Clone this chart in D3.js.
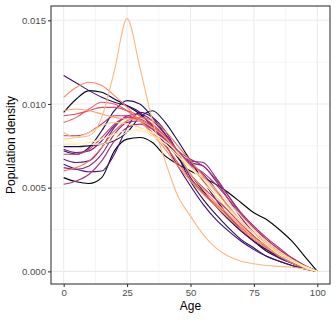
<!DOCTYPE html>
<html>
<head>
<meta charset="utf-8">
<script src="https://cdn.jsdelivr.net/npm/d3@7"></script>
<style>
body { margin: 0; background: #fff; }
text { font-family: "Liberation Sans", Arial, sans-serif; }
</style>
</head>
<body>
<script>
var ages = [0, 5, 10, 15, 20, 25, 30, 35, 40, 45, 50, 55, 60, 65, 70, 75, 80, 85, 90, 95, 100]

// densities, in thousandths, one array per population (dark -> light)
var pop00 = [5.6, 5.35, 5.25, 5.6, 7.2, 7.9, 8.0, 7.7, 6.9, 6.4, 6.0, 5.6, 5.2, 4.7, 4.1, 3.5, 3.1, 2.5, 1.8, 0.9, 0]
var pop01 = [9.5, 10.3, 10.8, 10.7, 10.3, 9.9, 9.4, 8.7, 7.8, 6.8, 5.8, 4.8, 3.9, 3.1, 2.4, 1.8, 1.3, 0.9, 0.5, 0.2, 0]
var pop02 = [7.45, 7.45, 7.5, 7.6, 7.8, 8.3, 9.2, 9.6, 8.9, 7.8, 6.6, 5.4, 4.3, 3.3, 2.5, 1.8, 1.2, 0.8, 0.5, 0.2, 0]
var pop03 = [7.2, 7.0, 7.4, 8.4, 9.6, 10.2, 10.0, 9.2, 8.2, 6.9, 5.4, 4.3, 3.4, 2.6, 1.9, 1.4, 0.9, 0.6, 0.35, 0.15, 0]
var pop04 = [11.7, 11.25, 10.8, 10.4, 10.1, 9.9, 9.5, 8.6, 7.6, 6.3, 5.1, 4.0, 3.1, 2.4, 1.8, 1.3, 0.9, 0.6, 0.35, 0.15, 0]
var pop05 = [6.4, 6.1, 5.95, 6.0, 7.0, 8.6, 9.5, 9.2, 8.4, 7.1, 5.6, 4.7, 3.9, 3.1, 2.4, 1.8, 1.3, 0.8, 0.5, 0.2, 0]
var pop06 = [6.7, 6.5, 6.6, 7.4, 8.6, 9.3, 9.4, 9.0, 8.2, 7.2, 6.4, 5.8, 4.9, 3.8, 2.9, 2.1, 1.4, 0.9, 0.5, 0.2, 0]
var pop07 = [7.3, 7.1, 7.2, 7.8, 8.7, 9.2, 9.0, 8.5, 7.8, 7.0, 6.5, 6.3, 5.4, 4.3, 3.2, 2.3, 1.6, 1.0, 0.6, 0.25, 0]
var pop08 = [6.2, 6.1, 6.3, 7.0, 8.2, 8.9, 9.0, 8.6, 7.9, 7.1, 6.6, 6.5, 5.6, 4.5, 3.4, 2.6, 1.9, 1.3, 0.8, 0.35, 0]
var pop09 = [5.2, 5.4, 5.8, 6.6, 7.8, 8.6, 8.8, 8.5, 7.9, 7.2, 6.7, 6.3, 5.5, 4.5, 3.5, 2.7, 2.0, 1.4, 0.8, 0.35, 0]
var pop10 = [8.1, 8.1, 8.3, 8.8, 9.3, 9.3, 9.0, 8.5, 7.9, 7.1, 6.4, 5.9, 5.2, 4.3, 3.4, 2.6, 1.9, 1.3, 0.8, 0.35, 0]
var pop11 = [7.0, 7.0, 7.3, 8.0, 8.8, 9.2, 9.1, 8.7, 8.0, 7.0, 5.8, 5.0, 4.3, 3.6, 2.9, 2.3, 1.7, 1.2, 0.7, 0.3, 0]
var pop12 = [9.3, 9.4, 9.6, 9.8, 9.8, 9.6, 9.3, 8.8, 8.1, 7.2, 6.3, 5.4, 4.5, 3.6, 2.8, 2.1, 1.5, 1.0, 0.6, 0.25, 0]
var pop13 = [8.9, 9.2, 9.7, 10.1, 10.0, 9.6, 9.0, 8.3, 7.5, 6.5, 5.5, 4.7, 4.0, 3.3, 2.6, 2.0, 1.5, 1.0, 0.6, 0.25, 0]
var pop14 = [6.0, 6.2, 6.6, 7.4, 8.4, 9.0, 9.2, 9.0, 8.4, 7.5, 6.6, 5.7, 4.8, 3.9, 3.0, 2.3, 1.7, 1.1, 0.7, 0.3, 0]
var pop15 = [10.4, 11.0, 11.3, 11.1, 10.5, 9.8, 9.0, 8.2, 7.3, 6.3, 5.4, 4.6, 3.9, 3.2, 2.5, 1.9, 1.4, 0.9, 0.5, 0.2, 0]
var pop16 = [9.6, 9.7, 9.6, 9.4, 9.2, 9.1, 9.0, 8.6, 8.0, 7.0, 5.8, 4.9, 4.1, 3.4, 2.7, 2.0, 1.5, 1.0, 0.6, 0.25, 0]
var pop17 = [8.3, 8.0, 8.1, 9.2, 12.0, 15.1, 12.2, 9.0, 6.6, 4.5, 3.3, 2.2, 1.4, 0.9, 0.6, 0.45, 0.35, 0.3, 0.25, 0.15, 0]
var pop18 = [7.9, 8.0, 8.3, 8.7, 8.9, 8.8, 8.6, 8.2, 7.6, 6.9, 6.2, 5.6, 4.9, 4.1, 3.3, 2.5, 1.8, 1.2, 0.7, 0.3, 0]
var pop19 = [7.6, 7.6, 7.7, 7.9, 8.2, 8.4, 8.4, 8.1, 7.6, 6.9, 6.2, 5.5, 4.7, 3.8, 3.0, 2.3, 1.7, 1.1, 0.7, 0.3, 0]
var pop20 = [7.8, 7.7, 7.6, 7.6, 7.9, 8.3, 8.5, 8.3, 7.8, 7.1, 6.2, 5.3, 4.5, 3.7, 2.9, 2.2, 1.6, 1.0, 0.6, 0.25, 0]

var xBreaks = [0, 25, 50, 75, 100]
var yBreaks = [0, 0.005, 0.010, 0.015]

var populations = [pop00, pop01, pop02, pop03, pop04, pop05, pop06, pop07, pop08, pop09, pop10,
    pop11, pop12, pop13, pop14, pop15, pop16, pop17, pop18, pop19, pop20]

// turn into [{age, density}] per curve
var curves = populations.map(p => p.map((v, i) => ({ age: ages[i], density: v / 1000 })))

var W = 336, H = 320
var panel = { left: 51, right: 330, top: 6, bottom: 284 }

var svg = d3.select('body').append('svg')
    .attr('width', W)
    .attr('height', H)

// ggplot-style 5% expansion
var yMax = d3.max(curves, c => d3.max(c, d => d.density))
var x = d3.scaleLinear().domain([-5, 105]).range([panel.left, panel.right])
var y = d3.scaleLinear().domain([-yMax * 0.05, yMax * 1.05]).range([panel.bottom, panel.top])

var color = d3.scaleSequential(d3.interpolateMagma).domain([0, curves.length - 1])

// minor + major grid
var grid = svg.append('g')
var xMinor = [12.5, 37.5, 62.5, 87.5]
var yMinor = [0.0025, 0.0075, 0.0125]
grid.selectAll('.xm').data(xMinor).enter().append('line')
    .attr('x1', d => x(d)).attr('x2', d => x(d))
    .attr('y1', panel.top).attr('y2', panel.bottom)
    .attr('stroke', '#ebebeb').attr('stroke-width', 0.55)
grid.selectAll('.ym').data(yMinor).enter().append('line')
    .attr('y1', d => y(d)).attr('y2', d => y(d))
    .attr('x1', panel.left).attr('x2', panel.right)
    .attr('stroke', '#ebebeb').attr('stroke-width', 0.55)
grid.selectAll('.xM').data(xBreaks).enter().append('line')
    .attr('x1', d => x(d)).attr('x2', d => x(d))
    .attr('y1', panel.top).attr('y2', panel.bottom)
    .attr('stroke', '#ebebeb').attr('stroke-width', 1.07)
grid.selectAll('.yM').data(yBreaks).enter().append('line')
    .attr('y1', d => y(d)).attr('y2', d => y(d))
    .attr('x1', panel.left).attr('x2', panel.right)
    .attr('stroke', '#ebebeb').attr('stroke-width', 1.07)

// density lines
var line = d3.line()
    .x(d => x(d.age))
    .y(d => y(d.density))
    .curve(d3.curveMonotoneX)

svg.append('g').selectAll('path').data(curves).enter().append('path')
    .attr('d', line)
    .attr('fill', 'none')
    .attr('stroke', (d, i) => color(i))
    .attr('stroke-width', 1.1)

// panel border
svg.append('rect')
    .attr('x', panel.left).attr('y', panel.top)
    .attr('width', panel.right - panel.left).attr('height', panel.bottom - panel.top)
    .attr('fill', 'none').attr('stroke', '#333333').attr('stroke-width', 1.07)

// axes
var xAxis = svg.append('g')
    .attr('transform', 'translate(0,' + panel.bottom + ')')
    .call(d3.axisBottom(x).tickValues(xBreaks).tickSize(3).tickPadding(2))
var yAxis = svg.append('g')
    .attr('transform', 'translate(' + panel.left + ',0)')
    .call(d3.axisLeft(y).tickValues(yBreaks).tickFormat(d3.format('.3f')).tickSize(3).tickPadding(2))

;[xAxis, yAxis].forEach(a => {
    a.select('.domain').remove()
    a.selectAll('line').attr('stroke', '#333333').attr('stroke-width', 1.07)
    a.selectAll('text').attr('fill', '#4d4d4d').style('font-size', '9.6px')
})

// titles
svg.append('text')
    .attr('x', (panel.left + panel.right) / 2).attr('y', 309.5)
    .attr('text-anchor', 'middle')
    .style('font-size', '12px').attr('fill', '#000')
    .text('Age')
svg.append('text')
    .attr('transform', 'translate(15,' + (panel.top + panel.bottom) / 2 + ') rotate(-90)')
    .attr('text-anchor', 'middle')
    .style('font-size', '12px').attr('fill', '#000')
    .text('Population density')
</script>
</body>
